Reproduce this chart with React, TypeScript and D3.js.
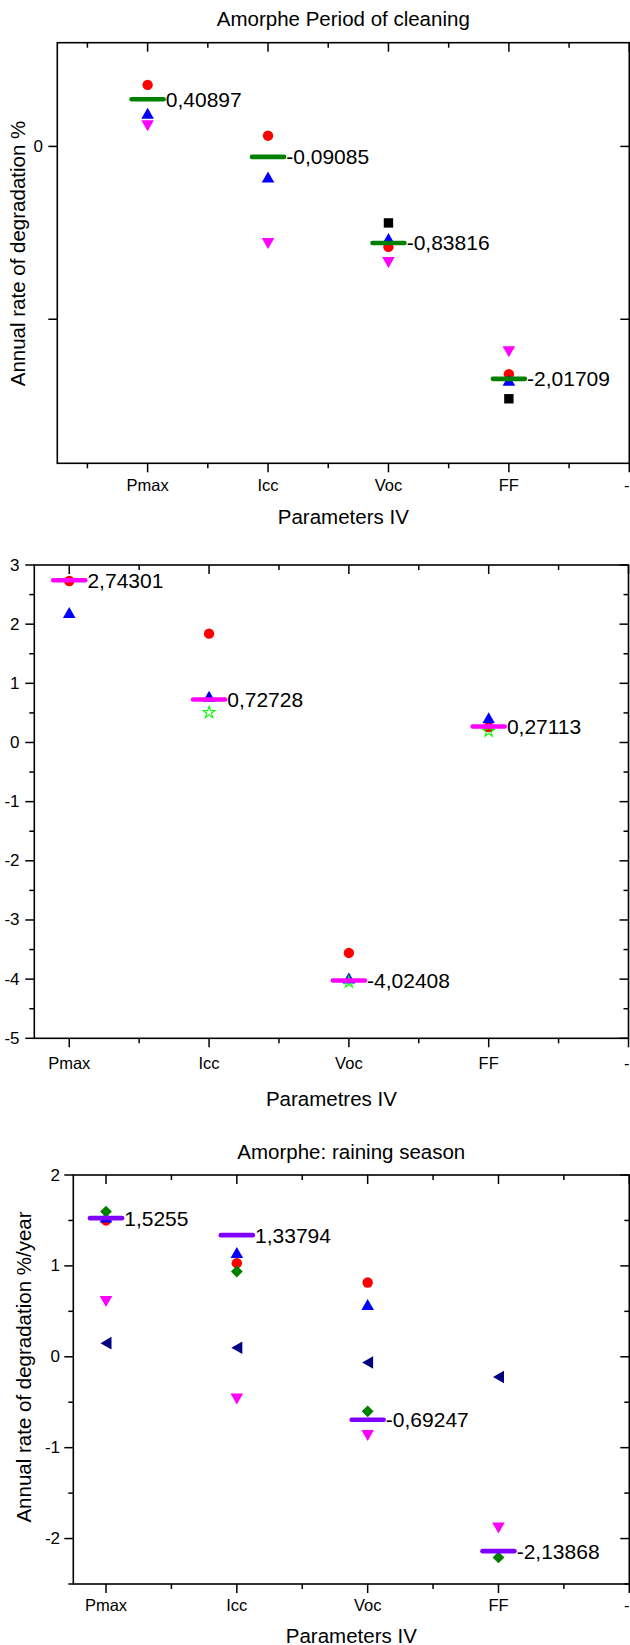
import React from 'react';
import * as d3 from 'd3';

// ---------- data ----------
const categories = ['Pmax', 'Icc', 'Voc', 'FF', '-'];
const catPositions = [1, 2, 3, 4, 5];

// Chart 1: Amorphe Period of cleaning
const c1Square = [null, null, -0.664, -2.19];
const c1Circle = [0.534, 0.093, -0.872, -1.977];
const c1Up = [0.288, -0.266, -0.8, -2.03];
const c1Down = [0.179, -0.843, -1.007, -1.781];
const c1Mean = [0.40897, -0.09085, -0.83816, -2.01709];
const c1YTicks = [0, -1.5];
const c1YTickLabels = ['0', ''];

// Chart 2: Parametres IV
const c2Circle = [2.73, 1.84, -3.557, 0.26];
const c2Up = [2.196, 0.78, -3.98, 0.42];
const c2Star = [null, 0.507, -4.05, 0.19];
const c2Mean = [2.74301, 0.72728, -4.02408, 0.27113];
const c2YTicks = [3, 2, 1, 0, -1, -2, -3, -4, -5];
const c2YMinor = [2.5, 1.5, 0.5, -0.5, -1.5, -2.5, -3.5, -4.5];

// Chart 3: Amorphe: raining season
const c3Circle = [1.5, 1.03, 0.817, null];
const c3Up = [1.537, 1.147, 0.575, null];
const c3Down = [0.608, -0.465, -0.866, -1.885];
const c3Left = [0.15, 0.1, -0.063, -0.223];
const c3Diamond = [1.598, 0.938, -0.6, -2.208];
const c3Mean = [1.5255, 1.33794, -0.69247, -2.13868];
const c3YTicks = [2, 1, 0, -1, -2];
const c3YMinor = [1.5, 0.5, -0.5, -1.5, -2.5];

// ---------- styling ----------
const FONT = '"Liberation Sans", Arial, Helvetica, sans-serif';
const PAGE_W = 630;

type Shape = 'circle' | 'up' | 'down' | 'left' | 'square' | 'diamond' | 'star';

function markerPath(shape: Shape): string {
  switch (shape) {
    case 'circle':
      return d3.symbol(d3.symbolCircle, Math.PI * 5.2 * 5.2)() as string;
    case 'up': {
      const w = 12.6, h = 11;
      return `M0,${-h / 2}L${w / 2},${h / 2}L${-w / 2},${h / 2}Z`;
    }
    case 'down': {
      const w = 12.6, h = 11;
      return `M0,${h / 2}L${w / 2},${-h / 2}L${-w / 2},${-h / 2}Z`;
    }
    case 'left': {
      const w = 11, h = 12.6;
      return `M${-w / 2},0L${w / 2},${-h / 2}L${w / 2},${h / 2}Z`;
    }
    case 'square': {
      const s = 9.4;
      return `M${-s / 2},${-s / 2}h${s}v${s}h${-s}Z`;
    }
    case 'diamond': {
      const w = 11.8, h = 11.8;
      return `M0,${-h / 2}L${w / 2},0L0,${h / 2}L${-w / 2},0Z`;
    }
    case 'star':
      return d3.symbol(d3.symbolStar, 44)() as string;
  }
  return '';
}

interface Series {
  values: (number | null)[];
  shape: Shape;
  color: string;
  hollow?: boolean;
}

interface ChartCfg {
  xDomain: [number, number];
  xRange: [number, number];
  yDomain: [number, number];
  yRange: [number, number];
  xMinor: number[];
  yTicks: number[];
  yTickLabels: string[];
  yMinor: number[];
  series: Series[];
  mean: number[];
  meanColor: string;
  title?: string;
  titleY?: number;
  xTitle: string;
  xTitleY: number;
  xLabelY: number;
  yLabelRight: number;
  yTitle?: string;
  yTitleX?: number;
  yTitleY?: number;
}

const fmt = (v: number) => String(v).replace('.', ',');

function Chart({ cfg }: { cfg: ChartCfg }) {
  const x = d3.scaleLinear().domain(cfg.xDomain).range(cfg.xRange);
  const y = d3.scaleLinear().domain(cfg.yDomain).range(cfg.yRange);
  const [x0, x1] = cfg.xRange;
  const [yb, yt] = cfg.yRange;
  const MAJ = 9;
  const MIN = 5;
  const cx = (x0 + x1) / 2;
  const halfLine = 16;

  return (
    <g>
      {/* x ticks */}
      {catPositions.map((v) => (
        <g key={'xM' + v}>
          <line x1={x(v)} x2={x(v)} y1={yb} y2={yb + MAJ} stroke="#000" strokeWidth={1.5} />
          <line x1={x(v)} x2={x(v)} y1={yt} y2={yt + MAJ} stroke="#000" strokeWidth={1.5} />
        </g>
      ))}
      {cfg.xMinor.map((v) => (
        <g key={'xm' + v}>
          <line x1={x(v)} x2={x(v)} y1={yb} y2={yb + MIN} stroke="#000" strokeWidth={1.5} />
          <line x1={x(v)} x2={x(v)} y1={yt} y2={yt + MIN} stroke="#000" strokeWidth={1.5} />
        </g>
      ))}
      {/* y ticks */}
      {cfg.yTicks.map((v) => (
        <g key={'yM' + v}>
          <line x1={x0 - MAJ} x2={x0} y1={y(v)} y2={y(v)} stroke="#000" strokeWidth={1.5} />
          <line x1={x1 - MAJ} x2={x1} y1={y(v)} y2={y(v)} stroke="#000" strokeWidth={1.5} />
        </g>
      ))}
      {cfg.yMinor.map((v) => (
        <g key={'ym' + v}>
          <line x1={x0 - MIN} x2={x0} y1={y(v)} y2={y(v)} stroke="#000" strokeWidth={1.5} />
          <line x1={x1 - MIN} x2={x1} y1={y(v)} y2={y(v)} stroke="#000" strokeWidth={1.5} />
        </g>
      ))}
      {/* frame */}
      <rect x={x0} y={yt} width={x1 - x0} height={yb - yt} fill="none" stroke="#000" strokeWidth={1.6} />

      {/* tick labels */}
      {categories.map((c, i) => {
        const px = x(catPositions[i]);
        const atEdge = px > PAGE_W - 8;
        return (
          <text
            key={'xl' + c}
            x={atEdge ? PAGE_W - 0.5 : px}
            y={cfg.xLabelY}
            textAnchor={atEdge ? 'end' : 'middle'}
            dominantBaseline="central"
            fontSize={16.5}
            fontFamily={FONT}
          >
            {c}
          </text>
        );
      })}
      {cfg.yTicks.map((v, i) => (
        <text
          key={'yl' + v}
          x={cfg.yLabelRight}
          y={y(v)}
          textAnchor="end"
          dominantBaseline="central"
          fontSize={17}
          fontFamily={FONT}
        >
          {cfg.yTickLabels[i]}
        </text>
      ))}

      {/* titles */}
      {cfg.title && (
        <text x={cx} y={cfg.titleY} textAnchor="middle" dominantBaseline="central" fontSize={20.5} fontFamily={FONT}>
          {cfg.title}
        </text>
      )}
      <text x={cx} y={cfg.xTitleY} textAnchor="middle" dominantBaseline="central" fontSize={20.5} fontFamily={FONT}>
        {cfg.xTitle}
      </text>
      {cfg.yTitle && (
        <text
          transform={`translate(${cfg.yTitleX},${cfg.yTitleY}) rotate(-90)`}
          textAnchor="middle"
          dominantBaseline="central"
          fontSize={20.5}
          fontFamily={FONT}
        >
          {cfg.yTitle}
        </text>
      )}

      {/* markers */}
      {cfg.series.map((s, si) =>
        s.values.map((v, i) =>
          v === null ? null : (
            <path
              key={`m${si}-${i}`}
              d={markerPath(s.shape)}
              transform={`translate(${x(catPositions[i])},${y(v)})`}
              fill={s.hollow ? 'none' : s.color}
              stroke={s.hollow ? s.color : 'none'}
              strokeWidth={s.hollow ? 1.1 : 0}
            />
          )
        )
      )}

      {/* mean lines + labels */}
      {cfg.mean.map((v, i) => (
        <g key={'mean' + i}>
          <line
            x1={x(catPositions[i]) - halfLine}
            x2={x(catPositions[i]) + halfLine}
            y1={y(v)}
            y2={y(v)}
            stroke={cfg.meanColor}
            strokeWidth={4.6}
            strokeLinecap="round"
          />
          <text
            x={x(catPositions[i]) + halfLine + 2.2}
            y={y(v)}
            dominantBaseline="central"
            fontSize={21}
            fontFamily={FONT}
          >
            {fmt(v)}
          </text>
        </g>
      ))}
    </g>
  );
}

const chart1: ChartCfg = {
  xDomain: [0.25, 5],
  xRange: [57.3, 629.3],
  yDomain: [-2.75, 0.9],
  yRange: [463.3, 42.7],
  xMinor: [0.5, 1.5, 2.5, 3.5, 4.5],
  yTicks: c1YTicks,
  yTickLabels: c1YTickLabels,
  yMinor: [],
  series: [
    { values: c1Square, shape: 'square', color: '#000000' },
    { values: c1Circle, shape: 'circle', color: '#ff0000' },
    { values: c1Up, shape: 'up', color: '#0000ff' },
    { values: c1Down, shape: 'down', color: '#ff00ff' },
  ],
  mean: c1Mean,
  meanColor: '#008000',
  title: 'Amorphe Period of cleaning',
  titleY: 18.5,
  xTitle: 'Parameters IV',
  xTitleY: 516.5,
  xLabelY: 485,
  yLabelRight: 43,
  yTitle: 'Annual rate of degradation %',
  yTitleX: 17.5,
  yTitleY: 253.5,
};

const chart2: ChartCfg = {
  xDomain: [0.75, 5],
  xRange: [34.3, 628.5],
  yDomain: [-5, 3],
  yRange: [1038.3, 565],
  xMinor: [1.5, 2.5, 3.5, 4.5],
  yTicks: c2YTicks,
  yTickLabels: c2YTicks.map((v) => String(v)),
  yMinor: c2YMinor,
  series: [
    { values: c2Circle, shape: 'circle', color: '#ff0000' },
    { values: c2Up, shape: 'up', color: '#0000ff' },
    { values: c2Star, shape: 'star', color: '#00ff00', hollow: true },
  ],
  mean: c2Mean,
  meanColor: '#ff00ff',
  xTitle: 'Parametres IV',
  xTitleY: 1098,
  xLabelY: 1063,
  yLabelRight: 19.5,
};

const chart3: ChartCfg = {
  xDomain: [0.75, 5],
  xRange: [73.3, 629.3],
  yDomain: [-2.5, 2],
  yRange: [1584, 1175],
  xMinor: [1.5, 2.5, 3.5, 4.5],
  yTicks: c3YTicks,
  yTickLabels: c3YTicks.map((v) => String(v)),
  yMinor: c3YMinor,
  series: [
    { values: c3Circle, shape: 'circle', color: '#ff0000' },
    { values: c3Up, shape: 'up', color: '#0000ff' },
    { values: c3Down, shape: 'down', color: '#ff00ff' },
    { values: c3Left, shape: 'left', color: '#000080' },
    { values: c3Diamond, shape: 'diamond', color: '#008000' },
  ],
  mean: c3Mean,
  meanColor: '#8000ff',
  title: 'Amorphe: raining season',
  titleY: 1151.7,
  xTitle: 'Parameters IV',
  xTitleY: 1635,
  xLabelY: 1605,
  yLabelRight: 60,
  yTitle: 'Annual rate of degradation %/year',
  yTitleX: 23.3,
  yTitleY: 1367,
};

export default function App() {
  return (
    <svg
      width={630}
      height={1645}
      viewBox="0 0 630 1645"
      style={{ position: 'absolute', left: 0, top: 0, display: 'block', background: '#fff' }}
    >
      <rect x={0} y={0} width={630} height={1645} fill="#fff" />
      <Chart cfg={chart1} />
      <Chart cfg={chart2} />
      <Chart cfg={chart3} />
    </svg>
  );
}
